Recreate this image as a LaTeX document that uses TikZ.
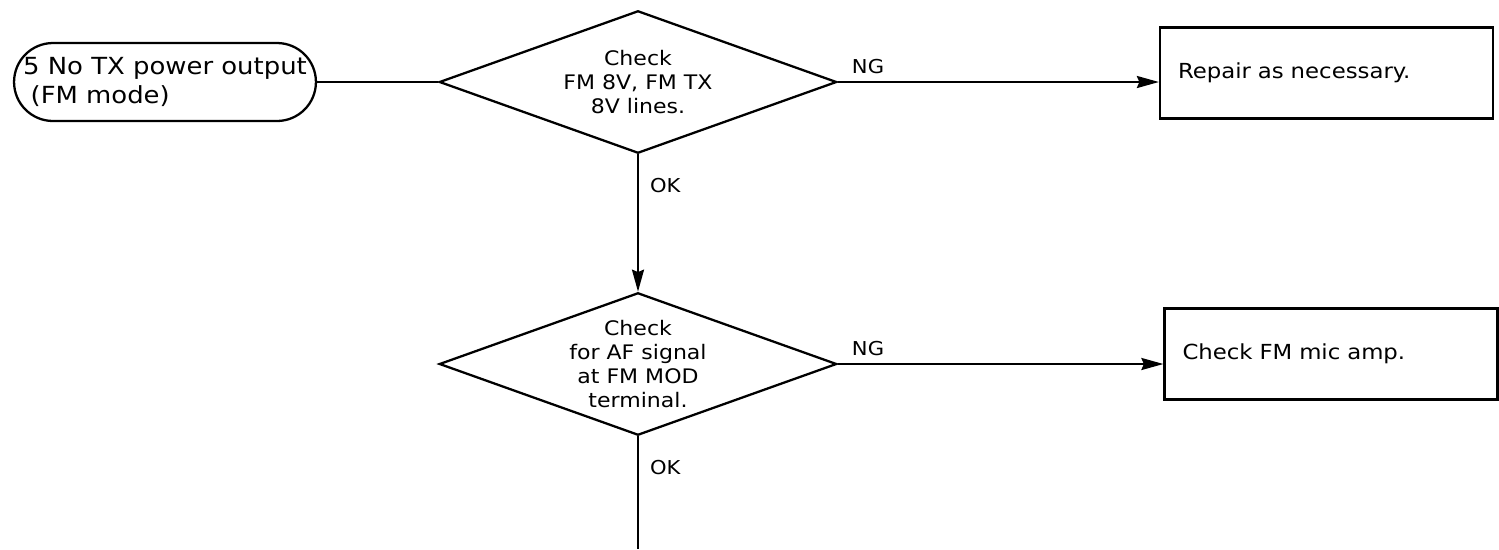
\documentclass[tikz,border=0pt]{standalone}
\usepackage{fontspec}
\setmainfont{DejaVu Sans}[FakeStretch=1.1]
\usetikzlibrary{shapes.geometric,shapes.misc,arrows.meta}

\tikzset{
  flow/.style={line width=1.3pt},
  tip/.style={-{Stealth[length=0.44cm,width=0.24cm,inset=0.05cm]}},
  startbox/.style={rounded rectangle, draw, line width=1.3pt, minimum width=6.02cm,
    minimum height=1.56cm, inner sep=0pt, align=left, font=\fontsize{13.4}{17}\selectfont},
  checkdia/.style={diamond, draw, line width=1.3pt, minimum width=7.95cm, minimum height=2.85cm,
    aspect=2.9, inner sep=0pt, align=center, font=\fontsize{11.4}{13.6}\selectfont},
  resultbox/.style={rectangle, draw, line width=1.3pt, minimum width=6.66cm, minimum height=1.82cm,
    text width=5.94cm, inner xsep=0.36cm, align=left, font=\fontsize{11.8}{14}\selectfont},
  lbl/.style={inner sep=0pt, font=\fontsize{10.9}{12}\selectfont},
}

\begin{document}
\begin{tikzpicture}[x=0.02cm,y=-0.02cm]
\useasboundingbox (0,0) rectangle (1499,549);
% start and first check
\node[startbox] (start) at (165,82) {5 No TX power output\\\hspace{0.15cm}(FM mode)};
\node[checkdia] (chk1) at (638,82) {Check\\FM 8V, FM TX\\8V lines.};
\node[resultbox] (rep) at (1326.5,73) {Repair as necessary.};
% second check
\node[checkdia] (chk2) at (638,364) {Check\\for AF signal\\at FM MOD\\terminal.};
\node[resultbox] (mic) at (1331,354) {Check FM mic amp.};
\coordinate (cont) at (638,549);

\draw[flow] (start.east) -- (chk1.west);
\draw[flow,tip] (chk1.east) -- (chk1.east -| rep.west)
  node[lbl,pos=0,anchor=south west,xshift=0.26cm,yshift=0.14cm] {NG};
\draw[flow,tip] (chk1.south) -- (chk2.north)
  node[lbl,pos=0,anchor=north west,xshift=0.22cm,yshift=-0.46cm] {OK};
\draw[flow,tip] (chk2.east) -- (chk2.east -| mic.west)
  node[lbl,pos=0,anchor=south west,xshift=0.26cm,yshift=0.14cm] {NG};
\draw[flow] (chk2.south) -- (cont)
  node[lbl,pos=0,anchor=north west,xshift=0.22cm,yshift=-0.46cm] {OK};
\end{tikzpicture}
\end{document}
